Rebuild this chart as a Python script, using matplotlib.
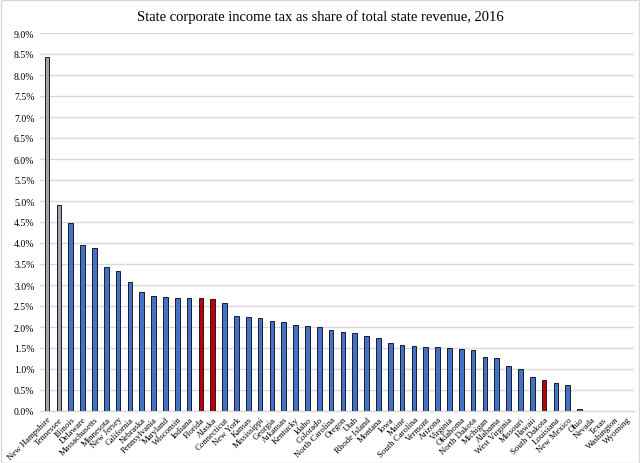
import matplotlib
matplotlib.use("Agg")
import matplotlib.pyplot as plt
from matplotlib.ticker import FuncFormatter, MultipleLocator

states = ["New Hampshire", "Tennessee", "Illinois", "Delaware", "Massachusetts", "Minnesota",
          "New Jersey", "California", "Nebraska", "Pennsylvania", "Maryland", "Wisconsin",
          "Indiana", "Florida", "Alaska", "Connecticut", "New York", "Kansas", "Mississippi",
          "Georgia", "Arkansas", "Kentucky", "Idaho", "Colorado", "North Carolina", "Oregon",
          "Utah", "Rhode Island", "Montana", "Iowa", "Maine", "South Carolina", "Vermont",
          "Arizona", "Virginia", "Oklahoma", "North Dakota", "Michigan", "Alabama",
          "West Virginia", "Missouri", "Hawaii", "South Dakota", "Louisiana", "New Mexico",
          "Ohio", "Nevada", "Texas", "Washington", "Wyoming"]
shares = [8.43, 4.90, 4.48, 3.95, 3.88, 3.43, 3.33, 3.07, 2.83, 2.74, 2.71, 2.70, 2.69, 2.69,
          2.66, 2.57, 2.26, 2.23, 2.21, 2.14, 2.11, 2.04, 2.02, 2.00, 1.94, 1.87, 1.85, 1.78,
          1.75, 1.61, 1.56, 1.54, 1.53, 1.52, 1.50, 1.47, 1.45, 1.28, 1.27, 1.08, 1.00, 0.82,
          0.74, 0.66, 0.63, 0.05, 0.0, 0.0, 0.0, 0.0]
gray_states = ["New Hampshire", "Tennessee"]
red_states = ["Florida", "Alaska", "South Dakota"]

colors = []
for s in states:
    if s in gray_states:
        colors.append("#A5A5A5")
    elif s in red_states:
        colors.append("#C00000")
    else:
        colors.append("#4472C4")

serif = ["Liberation Serif", "DejaVu Serif"]

fig = plt.figure(figsize=(6.4, 4.64), dpi=100)
ax = fig.add_axes([40/640, 52/464, 594/640, 378/464])

x = list(range(len(states)))
ax.bar(x, shares, width=0.4, color=colors, edgecolor="#1a1a2e", linewidth=0.7, zorder=3)

ax.set_ylim(0, 9.0)
ax.set_xlim(-0.6, len(states) - 0.4)
ax.yaxis.set_major_locator(MultipleLocator(0.5))
ax.yaxis.set_major_formatter(FuncFormatter(lambda v, p: f"{v:.1f}%"))
ax.grid(axis="y", color="#D9D9D9", linewidth=1.0, zorder=0)
ax.set_axisbelow(True)

for sp in ["top", "right", "left"]:
    ax.spines[sp].set_visible(False)
ax.spines["bottom"].set_color("#D9D9D9")
ax.spines["bottom"].set_linewidth(1.0)

ax.set_xticks(x)
ax.set_xticklabels(states, rotation=45, ha="right", rotation_mode="anchor",
                   fontsize=6.3, family=serif)
ax.tick_params(axis="x", length=0, pad=3)
ax.tick_params(axis="y", length=0, pad=4)
for lab in ax.get_yticklabels():
    lab.set_family(serif)
    lab.set_fontsize(7)

fig.text(0.5, 1 - 17/464, "State corporate income tax as share of total state revenue, 2016",
         ha="center", va="center", fontsize=10.5, family=serif)

border = plt.Rectangle((0.001, 0.001), 0.997, 0.997, transform=fig.transFigure,
                       fill=False, edgecolor="#D9D9D9", linewidth=1)
fig.patches.append(border)

fig.savefig("out.png", dpi=100)
